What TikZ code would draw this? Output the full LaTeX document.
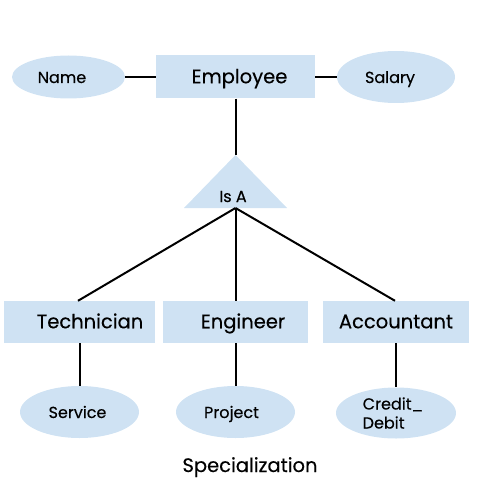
\documentclass[tikz,border=0pt]{standalone}
\usepackage{fontspec}
\setmainfont{Poppins}[FakeBold=0.3]
\usetikzlibrary{shapes.geometric}
\definecolor{erblue}{HTML}{CFE2F3}
\tikzset{
  entity/.style={fill=erblue, draw=none, rectangle, inner sep=0pt, text height=1.25em, text depth=0pt, font=\fontsize{19.5}{21}\selectfont},
  attr/.style={fill=erblue, draw=none, ellipse, inner sep=0pt, text height=1.2em, text depth=0pt, font=\fontsize{16}{18}\selectfont},
  conn/.style={draw=black, line width=2pt},
  lbl/.style={font=\fontsize{16}{18}\selectfont, inner sep=0pt}
}
\begin{document}
\begin{tikzpicture}[x=1pt,y=-1pt]
\useasboundingbox (0,0) rectangle (500,500);
% entities
\node[entity, minimum width=159pt, minimum height=43pt] (emp) at (235.5,77) {\kern8pt Employee};
\node[entity, minimum width=151pt, minimum height=42pt] (tech) at (79.5,322) {\kern21pt Technician};
\node[entity, minimum width=145pt, minimum height=42pt] (eng) at (235.5,322) {\kern15pt Engineer};
\node[entity, minimum width=146pt, minimum height=42pt] (acc) at (396,322) {Accountant};
% attributes
\node[attr, minimum width=113pt, minimum height=43pt] (name) at (68.5,77) {Name\kern13pt};
\node[attr, minimum width=118pt, minimum height=52pt] (sal) at (396,77) {Salary\kern12pt};
\node[attr, minimum width=119pt, minimum height=52pt] (serv) at (79.5,412) {Service\kern4pt};
\node[attr, minimum width=119pt, minimum height=52pt] (proj) at (235.5,412) {Project\kern8pt};
\node[attr, minimum width=120pt, minimum height=51pt] (cred) at (396,413) {};
\node[lbl, align=left, font=\fontsize{16}{19}\selectfont] (credt) at (393,413) {Credit\_\\Debit};
% Is A triangle
\coordinate (apex) at (235.5,155);
\coordinate (bl) at (184,208);
\coordinate (br) at (287,208);
\coordinate (isab) at (235.5,208);
\fill[erblue] (apex) -- (br) -- (bl) -- cycle;
\node[lbl, text height=1.2em, text depth=0pt] (isa) at (233,196) {Is A};
% connectors
\draw[conn] (name.east) -- (emp.west);
\draw[conn] (emp.east) -- (sal.west);
\draw[conn] (emp.south) -- (apex);
\draw[conn] (isab) -- (tech.north -| 78,0);
\draw[conn] (isab) -- (eng.north);
\draw[conn] (isab) -- (acc.north -| 395,0);
\draw[conn] (tech.south) -- (serv.north);
\draw[conn] (eng.south) -- (proj.north);
\draw[conn] (acc.south) -- (cred.north);
% caption
\node[lbl, text height=1.2em, text depth=0pt, font=\fontsize{19.5}{21}\selectfont] (cap) at (250,466) {Specialization};
\end{tikzpicture}
\end{document}
